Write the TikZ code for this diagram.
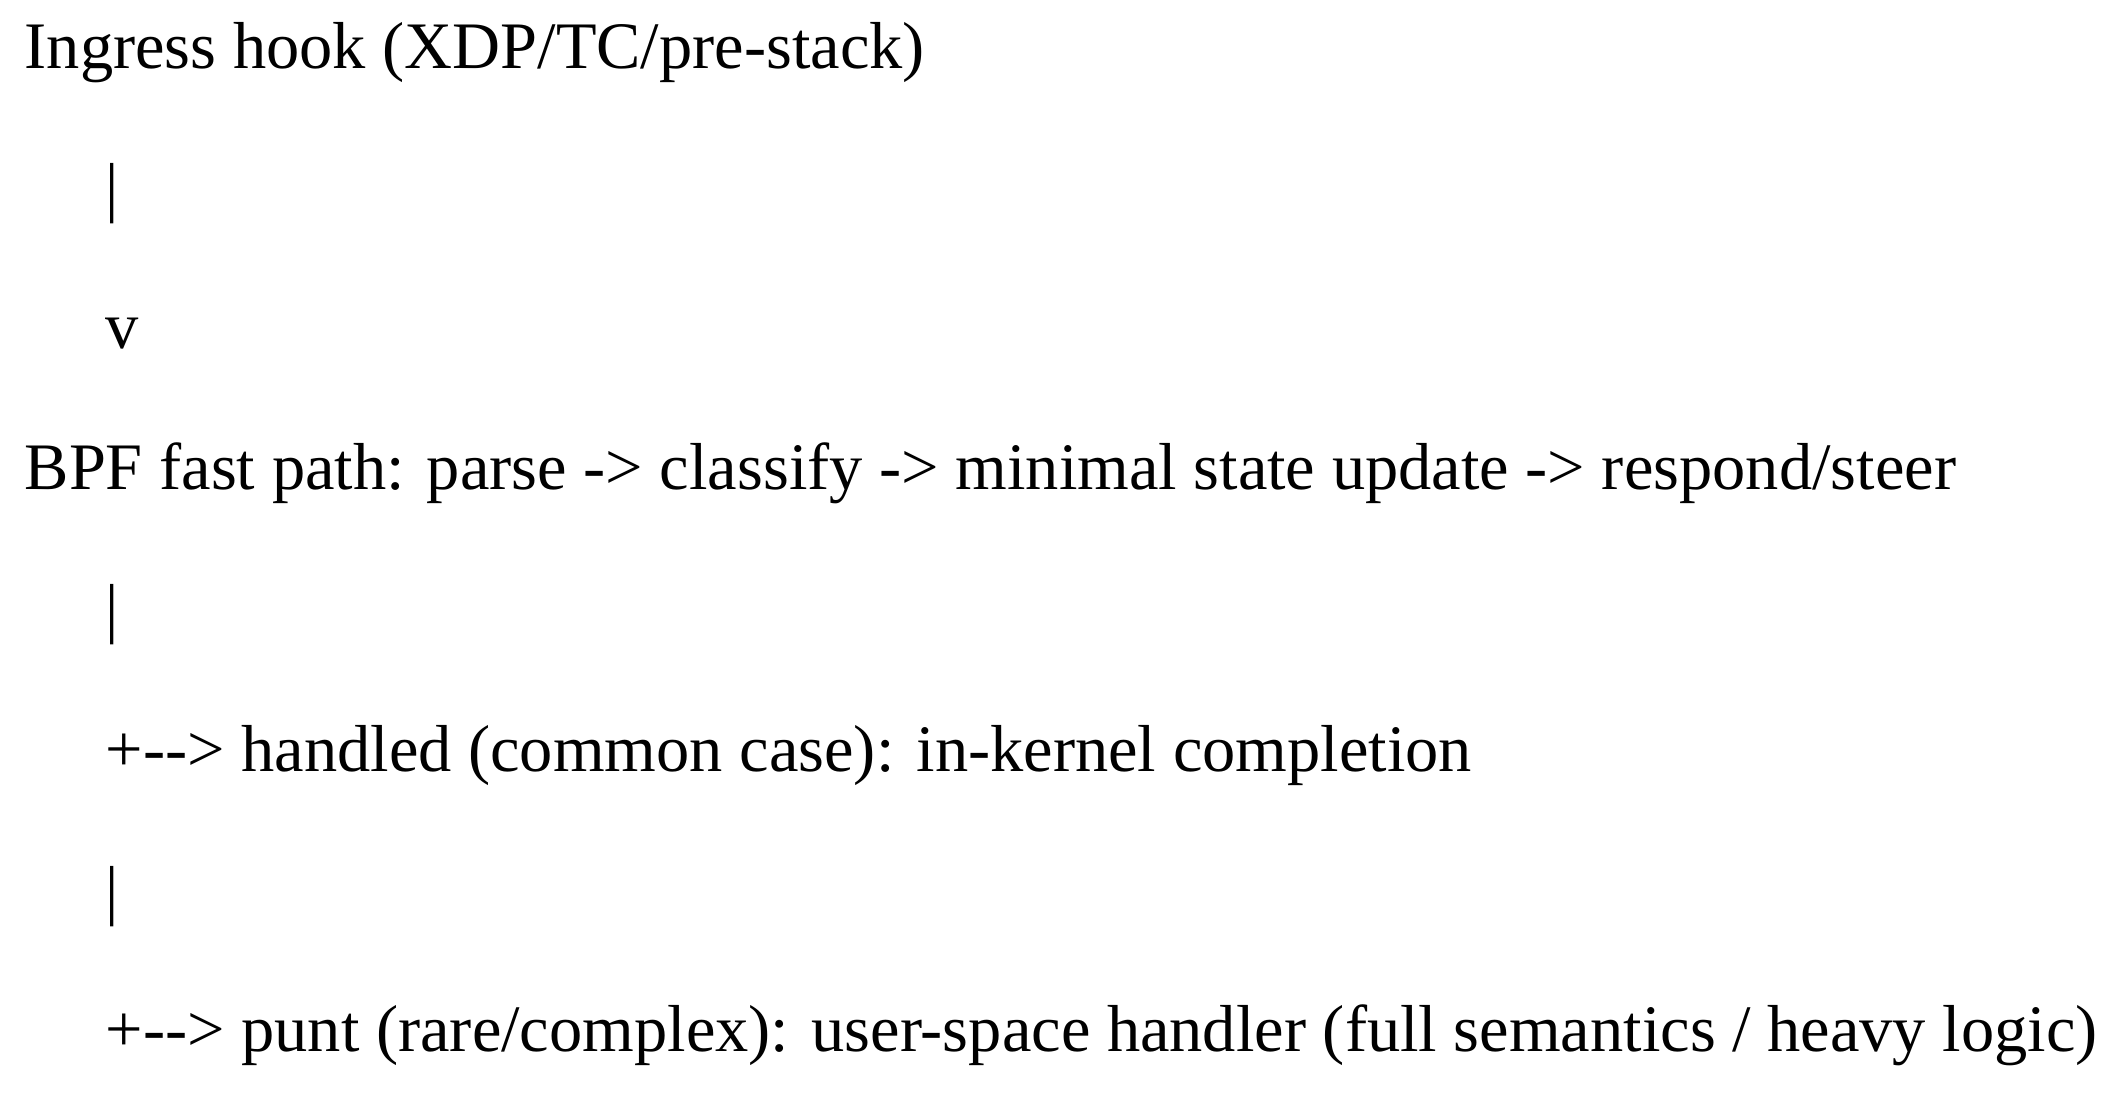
\documentclass[tikz,border=0pt]{standalone}
\usepackage{fontspec}
\setmainfont{Liberation Serif}
\begin{document}
\begin{tikzpicture}[x=1cm,y=1cm,
  txt/.style={anchor=base west,inner sep=0pt,font=\fontsize{18.9}{22}\selectfont}]
  \useasboundingbox (0,0) rectangle (21.12,-10.99);
  \node [txt] (hook)    at (0.24, -0.68) {Ingress hook (XDP/TC/pre-stack)};
  \node [txt] (bar1)    at (1.05, -2.09) {|};
  \node [txt] (vee)     at (1.05, -3.48) {v};
  \node [txt] (fast)    at (0.24, -4.89) {BPF fast path: parse -> classify -> minimal state update -> respond/steer};
  \node [txt] (bar2)    at (1.05, -6.30) {|};
  \node [txt] (handled) at (1.05, -7.71) {+-{}-> handled (common case): in-kernel completion};
  \node [txt] (bar3)    at (1.05, -9.12) {|};
  \node [txt] (punt)    at (1.05, -10.51) {+-{}-> punt (rare/complex): user-space handler (full semantics / heavy logic)};
\end{tikzpicture}
\end{document}
